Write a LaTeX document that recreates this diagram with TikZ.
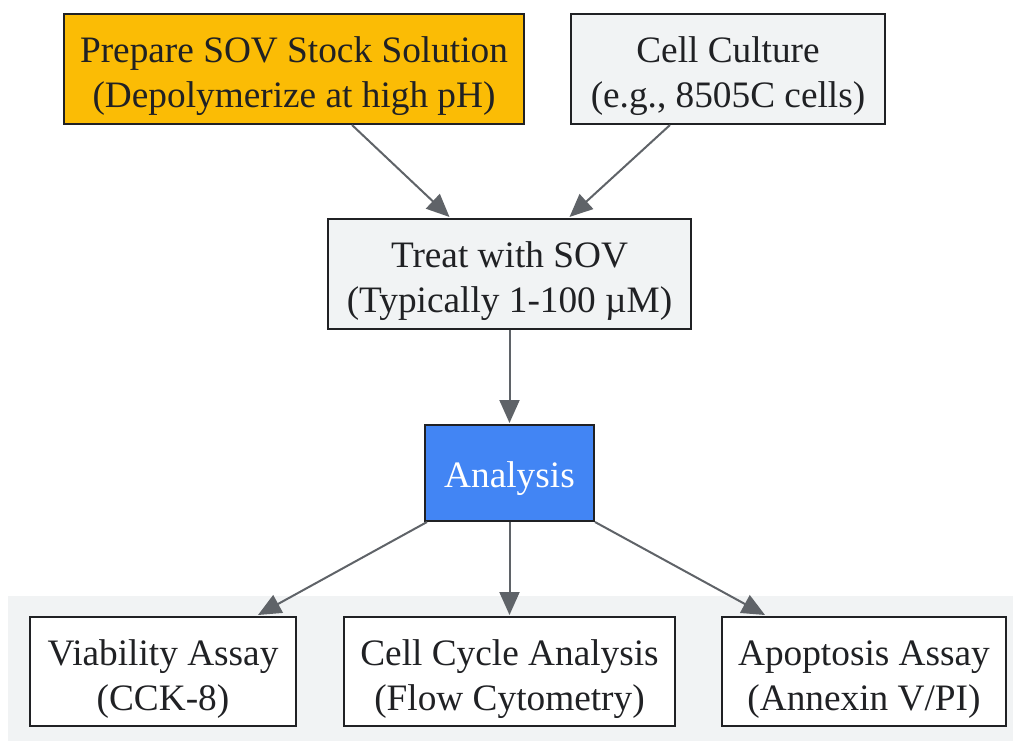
\documentclass[tikz,border=0pt]{standalone}
\usepackage{fontspec}
\setmainfont{Liberation Serif}
\usetikzlibrary{arrows.meta}
\definecolor{gOrange}{HTML}{FBBC05}
\definecolor{gGray}{HTML}{F1F3F4}
\definecolor{gBlue}{HTML}{4285F4}
\definecolor{gArrow}{HTML}{5F6368}
\definecolor{gText}{HTML}{202124}
\begin{document}
\begin{tikzpicture}[x=1pt,y=-1pt,
  box/.style={draw=gText,line width=2pt,rectangle,align=center,text=gText,
    font=\fontsize{37.3}{45}\selectfont,inner sep=0pt,text depth=0pt,text height=77pt},
  arr/.style={draw=gArrow,line width=2pt,-{Triangle[length=23pt,width=20pt]}}]
\useasboundingbox (0,0) rectangle (1013,741);
\fill[gGray] (8,596) rectangle (1013,741);
\node[box,fill=gOrange,minimum width=460pt,minimum height=110pt] (prep) at (294,69)
  {Prepare SOV Stock Solution\\(Depolymerize at high pH)};
\node[box,fill=gGray,minimum width=314pt,minimum height=110pt] (cell) at (728,69)
  {Cell Culture\\(e.g., 8505C cells)};
\node[box,fill=gGray,minimum width=363pt,minimum height=110pt] (treat) at (509.5,274)
  {Treat with SOV\\(Typically 1-100 µM)};
\node[box,fill=gBlue,text=white,minimum width=169pt,minimum height=96pt,text height=28pt] (ana) at (509.5,473)
  {Analysis};
\node[box,fill=white,minimum width=266pt,minimum height=109pt] (via) at (163,671.5)
  {Viability Assay\\(CCK-8)};
\node[box,fill=white,minimum width=331pt,minimum height=109pt] (cyc) at (509.5,671.5)
  {Cell Cycle Analysis\\(Flow Cytometry)};
\node[box,fill=white,minimum width=284pt,minimum height=109pt] (apo) at (864,671.5)
  {Apoptosis Assay\\(Annexin V/PI)};
\draw[arr] ([xshift=58pt]prep.south) -- ([xshift=-60pt,yshift=1pt]treat.north);
\draw[arr] ([xshift=-58pt]cell.south) -- ([xshift=60pt,yshift=1pt]treat.north);
\draw[arr] (treat.south) -- ([yshift=1pt]ana.north);
\draw[arr] ([xshift=3pt]ana.south west) -- ([xshift=95pt,yshift=1pt]via.north);
\draw[arr] (ana.south) -- ([yshift=1pt]cyc.north);
\draw[arr] (ana.south east) -- ([xshift=-99pt,yshift=1pt]apo.north);
\end{tikzpicture}
\end{document}
